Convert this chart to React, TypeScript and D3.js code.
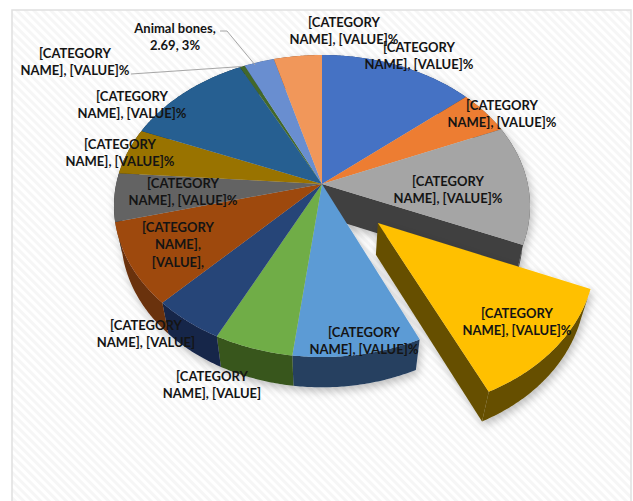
import React from "react";
import * as d3 from "d3";

const categories = ["Cat A","Cat B","Cat C","Cat D","Cat E","Cat F","Cat G","Cat H","Cat I","Cat J","Cat K","Cat L","Animal bones","Cat N"];
const shares = [13.86,4.75,12.75,11.9,8.72,5.36,4.89,8.8,5.17,5.0,11.39,0.44,2.69,4.3];
const topColors = ["#4472c4","#ed7d31","#a5a5a5","#ffc000","#5b9bd5","#70ad47","#264478","#9e480e","#636363","#997300","#255e91","#43682b","#698ed0","#f1975a"];
const wallColors = ["#223962","#773f19","#404040","#665000","#254061","#38561f","#15254a","#6b300a","#323232","#4d3a00","#132f49","#223415","#35476a","#79492d"];
const explodedIndex = 3;
const explodeDistance = 0.365;

const W = 633, H = 501;
const cx = 322, cy = 184, a = 205.8, b = 147.8, k = 0.1457, depth = 33, shrink = 0.035;

// label: lines, centre x, first baseline
const labels: [string[], number, number][] = [
  [["[CATEGORY","NAME], [VALUE]%"],419,52],
  [["[CATEGORY","NAME], [VALUE]%"],502,110],
  [["[CATEGORY","NAME], [VALUE]%"],448,186],
  [["[CATEGORY","NAME], [VALUE]%"],517,318],
  [["[CATEGORY","NAME], [VALUE]%"],364,337],
  [["[CATEGORY","NAME], [VALUE]"],212,381],
  [["[CATEGORY","NAME], [VALUE]"],146,330],
  [["[CATEGORY","NAME],","[VALUE],"],178,232],
  [["[CATEGORY","NAME], [VALUE]%"],183,188],
  [["[CATEGORY","NAME], [VALUE]%"],120,149],
  [["[CATEGORY","NAME], [VALUE]%"],132,101],
  [["[CATEGORY","NAME], [VALUE]%"],75,58],
  [["Animal bones,","2.69, 3%"],175,33],
  [["[CATEGORY","NAME], [VALUE]%"],344,27],
];

type P = [number, number];
const project = (u: number, v: number, z: number): P => {
  const w = 1 + k * v + shrink * z;
  return [cx + (a * u) / w, cy + (-b * v + depth * z) / w];
};
const line = d3.line<P>();

const pie = d3.pie<number>().sort(null).value((d) => d);
const arcs = pie(shares);

const arcPoints = (s: number, e: number, ox: number, oy: number, z: number): P[] => {
  const n = Math.max(2, Math.ceil((e - s) / 0.01));
  return d3.range(n + 1).map((i) => {
    const t = s + ((e - s) * i) / n;
    return project(ox + Math.sin(t), oy + Math.cos(t), z);
  });
};
const offset = (i: number): P => {
  if (i !== explodedIndex) return [0, 0];
  const m = (arcs[i].startAngle + arcs[i].endAngle) / 2;
  return [explodeDistance * Math.sin(m), explodeDistance * Math.cos(m)];
};
const topPath = (i: number) => {
  const [ox, oy] = offset(i);
  return line([project(ox, oy, 0), ...arcPoints(arcs[i].startAngle, arcs[i].endAngle, ox, oy, 0)]) + "Z";
};
const wallPath = (i: number) => {
  const [ox, oy] = offset(i);
  const s = arcs[i].startAngle, e = arcs[i].endAngle;
  return line([...arcPoints(s, e, ox, oy, 0), ...arcPoints(s, e, ox, oy, 1).reverse()]) + "Z";
};
const cutPath = (i: number, angle: number) => {
  const [ox, oy] = offset(i);
  const x = ox + Math.sin(angle), y = oy + Math.cos(angle);
  return line([project(ox, oy, 0), project(x, y, 0), project(x, y, 1), project(ox, oy, 1)]) + "Z";
};
const rimMid = (i: number): P => {
  const m = (arcs[i].startAngle + arcs[i].endAngle) / 2;
  return project(Math.sin(m), Math.cos(m), 0);
};

const font = "Lato, 'Open Sans', sans-serif";

export default function App() {
  const yellowIdx = explodedIndex;
  const order = d3.range(arcs.length).filter((i) => i !== yellowIdx);
  const animal = categories.indexOf("Animal bones");
  const thin = animal - 1;
  const [ax, ay] = rimMid(animal);
  const [tx, ty] = rimMid(thin);
  return (
    <svg width={W} height={H} viewBox={`0 0 ${W} ${H}`} style={{ position: "absolute", left: 0, top: 0, display: "block" }}>
      <defs>
        <pattern id="stripes" width="6" height="6" patternUnits="userSpaceOnUse" patternTransform="rotate(45)">
          <rect width="6" height="6" fill="#ffffff" />
          <rect width="6" height="3" fill="#f6f6f6" />
        </pattern>
        <filter id="shadow" x="-10%" y="-10%" width="120%" height="125%">
          <feDropShadow dx="2" dy="4" stdDeviation="4" floodColor="#000" floodOpacity="0.25" />
        </filter>
      </defs>
      <rect width={W} height={H} fill="#fff" />
      <rect x={12} y={10} width={619} height={495} fill="url(#stripes)" stroke="#e0e0e0" strokeWidth={1.5} />
      <g filter="url(#shadow)">
        <path d={cutPath(2, arcs[2].endAngle)} fill={wallColors[2]} />
        {order.map((i) => (
          <path key={"w" + i} d={wallPath(i)} fill={wallColors[i]} />
        ))}
        {order.map((i) => (
          <path key={"t" + i} d={topPath(i)} fill={topColors[i]} />
        ))}
      </g>
      <g filter="url(#shadow)">
        <path d={wallPath(yellowIdx)} fill={wallColors[yellowIdx]} />
        <path d={cutPath(yellowIdx, arcs[yellowIdx].endAngle)} fill={wallColors[yellowIdx]} />
        <path d={topPath(yellowIdx)} fill={topColors[yellowIdx]} />
      </g>
      <g fill="none" stroke="#a6a6a6" strokeWidth={1}>
        <path d={line([[220, 31], [227, 31], [ax - 4, ay + 3]])!} />
        <path d={line([[131, 74], [tx, ty]])!} />
      </g>
      <g fontFamily={font} fontWeight={700} fontSize={13} fill="#141414" textAnchor="middle">
        {labels.map(([lines, x, y], i) => (
          <text key={i} x={x} y={y}>
            {lines.map((l, j) => (
              <tspan key={j} x={x} y={y + j * 17.3}>{l}</tspan>
            ))}
          </text>
        ))}
      </g>
    </svg>
  );
}
